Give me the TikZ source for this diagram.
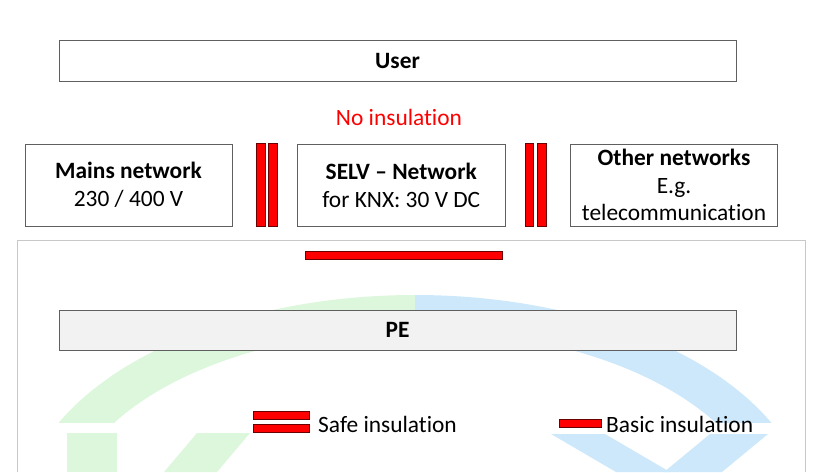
\documentclass[tikz,border=0pt]{standalone}
\usepackage{fontspec}
\setmainfont[Ligatures={NoCommon}]{Carlito}
\definecolor{boxgray}{HTML}{5F5F5F}
\definecolor{framegray}{HTML}{C8C8C8}
\definecolor{pefill}{HTML}{F2F2F2}
\definecolor{wmgreen}{HTML}{DDF7DD}
\definecolor{wmblue}{HTML}{CDE8FA}
\definecolor{bardark}{HTML}{6B0000}
\begin{document}
\begin{tikzpicture}[x=1pt,y=-1pt,
  txt/.style={inner sep=0pt, font=\fontsize{23.4}{27.5}\selectfont},
  box/.style={draw=boxgray, line width=0.9pt, fill=white, inner sep=0pt, align=center,
              font=\fontsize{23.4}{27.5}\selectfont},
  redbar/.style={draw=bardark, line width=0.6pt, fill=red, inner sep=0pt}
]
\useasboundingbox (0,0) rectangle (831,472);
% watermark
\begin{scope}
  \clip (17,240) rectangle (415,422);
  \fill[wmgreen, even odd rule] (415,520) ellipse [x radius=395pt, y radius=225pt]
                                (415,520) ellipse [x radius=350pt, y radius=190pt];
\end{scope}
\begin{scope}
  \clip (415,240) rectangle (805,422);
  \fill[wmblue, even odd rule] (415,520) ellipse [x radius=395pt, y radius=225pt]
                               (415,520) ellipse [x radius=350pt, y radius=190pt];
\end{scope}
\fill[wmgreen] (67,433) rectangle (117,472);
\fill[wmgreen] (197,433) -- (250,433) -- (217,472) -- (164,472) -- cycle;
\fill[wmblue] (551,434) -- (605,434) -- (670,472) -- (616,472) -- cycle;
\fill[wmblue] (710,434) -- (768,434) -- (722,472) -- (664,472) -- cycle;
% frame
\draw[framegray, line width=1pt] (17,472) -- (17,240) -- (805,240) -- (805,472);
% boxes
\node[box, minimum width=677pt, minimum height=41pt] (user) at (397.5,60.5) {\bfseries User};
\node[txt, text=red] (noins) at (399,117) {No insulation};
\node[box, minimum width=207pt, minimum height=82pt] (mains) at (128.5,185)
  {\textbf{Mains network}\\230 / 400 V};
\node[box, minimum width=207.5pt, minimum height=82.5pt] (selv) at (401.25,185.25)
  {\textbf{SELV – Network}\\for KNX: 30 V DC};
\node[box, minimum width=206.6pt, minimum height=82pt] (other) at (674,185)
  {\textbf{Other networks}\\E.g.\\telecommunication};
\node[box, fill=pefill, minimum width=677pt, minimum height=40pt] (pe) at (397.5,330) {\bfseries PE};
% insulation bars
\node[redbar, minimum width=9pt, minimum height=83pt] (s1a) at (260.5,184.5) {};
\node[redbar, minimum width=8.5pt, minimum height=83pt] (s1b) at (272.75,184.5) {};
\node[redbar, minimum width=8pt, minimum height=83pt] (s2a) at (529.5,184.5) {};
\node[redbar, minimum width=8.3pt, minimum height=83pt] (s2b) at (541.8,184.5) {};
\node[redbar, minimum width=196.6pt, minimum height=8pt] (basic) at (404,255.5) {};
% legend
\node[redbar, minimum width=56pt, minimum height=8.5pt] (lsa) at (281,415.5) {};
\node[redbar, minimum width=56pt, minimum height=8.5pt] (lsb) at (281,428.5) {};
\node[txt, anchor=base west] (safetxt) at (318,432) {Safe insulation};
\node[redbar, minimum width=42pt, minimum height=8pt] (lb) at (580,423) {};
\node[txt, anchor=base west] (basictxt) at (606,432) {Basic insulation};
\end{tikzpicture}
\end{document}
